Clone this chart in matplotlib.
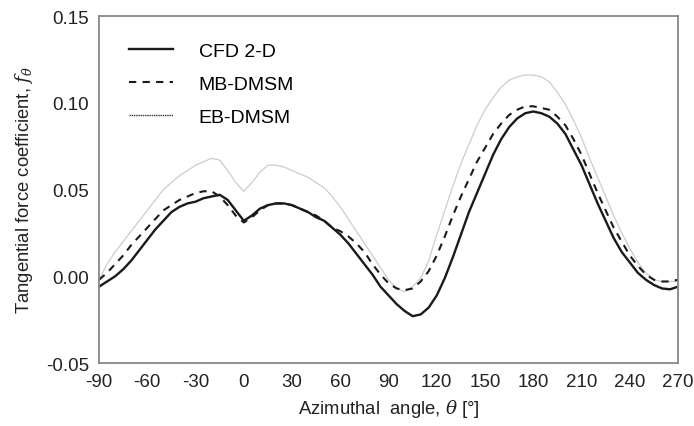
import matplotlib.pyplot as plt
from matplotlib.lines import Line2D

plt.rcParams['font.family'] = ['Liberation Sans', 'DejaVu Sans']
plt.rcParams['mathtext.fontset'] = 'dejavuserif'

# azimuthal angle [deg], 5 degree steps
theta = list(range(-90, 271, 5))

cfd_2d = [-0.006, -0.003, 0.000, 0.004, 0.009, 0.015, 0.021, 0.027, 0.032, 0.037,
          0.040, 0.042, 0.043, 0.045, 0.046, 0.047, 0.044, 0.038, 0.032, 0.035,
          0.039, 0.041, 0.042, 0.042, 0.041, 0.039, 0.037, 0.034, 0.032, 0.028,
          0.024, 0.019, 0.013, 0.007, 0.001, -0.006, -0.011, -0.016, -0.020,
          -0.023, -0.022, -0.018, -0.011, -0.001, 0.011, 0.024, 0.037, 0.048,
          0.059, 0.070, 0.079, 0.086, 0.091, 0.094, 0.095, 0.094, 0.092, 0.088,
          0.082, 0.073, 0.064, 0.053, 0.042, 0.032, 0.022, 0.014, 0.008, 0.002,
          -0.002, -0.005, -0.007, -0.0075, -0.006]

mb_dmsm = [-0.002, 0.002, 0.007, 0.012, 0.018, 0.023, 0.028, 0.033, 0.038, 0.041,
           0.044, 0.046, 0.048, 0.049, 0.049, 0.046, 0.041, 0.035, 0.031, 0.034,
           0.038, 0.041, 0.042, 0.042, 0.041, 0.039, 0.037, 0.035, 0.032, 0.028,
           0.026, 0.023, 0.019, 0.014, 0.007, 0.001, -0.004, -0.007, -0.008,
           -0.007, -0.003, 0.003, 0.012, 0.023, 0.035, 0.046, 0.056, 0.066,
           0.074, 0.082, 0.088, 0.093, 0.096, 0.098, 0.098, 0.097, 0.096, 0.092,
           0.087, 0.079, 0.070, 0.059, 0.048, 0.038, 0.028, 0.020, 0.012, 0.006,
           0.001, -0.002, -0.003, -0.003, -0.002]

eb_dmsm = [-0.002, 0.007, 0.014, 0.020, 0.026, 0.032, 0.038, 0.044, 0.050, 0.054,
           0.058, 0.061, 0.064, 0.066, 0.068, 0.067, 0.061, 0.054, 0.049, 0.054,
           0.060, 0.064, 0.064, 0.063, 0.061, 0.059, 0.057, 0.054, 0.051, 0.046,
           0.040, 0.033, 0.026, 0.019, 0.012, 0.005, -0.002, -0.007, -0.009,
           -0.006, -0.001, 0.009, 0.024, 0.038, 0.052, 0.065, 0.076, 0.087,
           0.096, 0.103, 0.109, 0.113, 0.115, 0.116, 0.116, 0.115, 0.112, 0.106,
           0.099, 0.090, 0.080, 0.068, 0.057, 0.046, 0.035, 0.025, 0.016, 0.008,
           0.002, -0.002, -0.003, -0.003, -0.003]

xticks = list(range(-90, 271, 30))
yticks = [-0.05, 0.00, 0.05, 0.10, 0.15]

fig = plt.figure(figsize=(6.94, 4.27), dpi=100)
ax = fig.add_axes([0.1427, 0.1475, 0.8343, 0.8125])

ax.plot(theta, eb_dmsm, color='#cccccc', lw=0.9)
ax.plot(theta, mb_dmsm, color='#1a1a1a', lw=1.5, ls=(0, (3.5, 3)))
ax.plot(theta, cfd_2d, color='#1a1a1a', lw=1.7)

ax.set_xlim(-90, 270)
ax.set_ylim(-0.05, 0.15)
ax.set_xticks(xticks)
ax.set_xticklabels([str(t) for t in xticks])
ax.set_yticks(yticks)
ax.set_yticklabels(['%.2f' % v for v in yticks])
ax.tick_params(length=0, labelsize=13.5, colors='#222222', pad=7)
for s in ax.spines.values():
    s.set_color('#888888')
    s.set_linewidth(1.3)

ax.set_xlabel(r'Azimuthal  angle, $\theta$ [°]', fontsize=13.3, color='#222222', labelpad=5)
ax.set_ylabel(r'Tangential force coefficient, $f_\theta$', fontsize=13.3, color='#222222', labelpad=8)

handles = [Line2D([], [], color='#1a1a1a', lw=1.7),
           Line2D([], [], color='#1a1a1a', lw=1.5, ls=(0, (3.5, 3))),
           Line2D([], [], color='#333333', lw=1.0, ls=(0, (1, 0.6)))]
ax.legend(handles, ['CFD 2-D', 'MB-DMSM', 'EB-DMSM'], loc='upper left',
          bbox_to_anchor=(0.022, 0.975), frameon=False, fontsize=14,
          handlelength=2.27, handletextpad=1.3, labelspacing=0.8)

fig.savefig('out.png', dpi=100)
